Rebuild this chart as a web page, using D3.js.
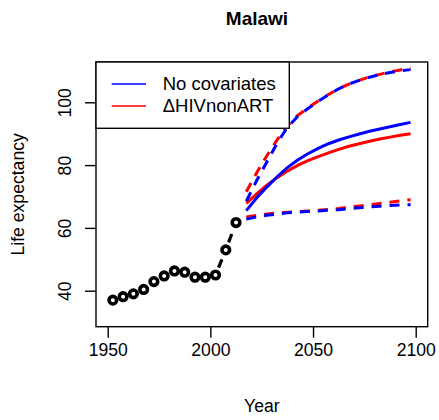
<!DOCTYPE html>
<html><head><meta charset="utf-8">
<script src="https://cdn.jsdelivr.net/npm/d3@7"></script>
<style>body{margin:0;background:#fff}svg{display:block}text{font-family:"Liberation Sans",Arial,sans-serif}</style>
</head><body>
<script>
const histYears=[1952.5,1957.5,1962.5,1967.5,1972.5,1977.5,1982.5,1987.5,1992.5,1997.5,2002.5,2007.5,2012.5];
const histValues=[37.0,38.1,39.0,40.4,42.9,44.7,46.3,45.9,44.3,44.3,45.0,53.0,61.7];
const projYears=[2017.5,2022.5,2027.5,2032.5,2037.5,2042.5,2047.5,2052.5,2057.5,2062.5,2067.5,2072.5,2077.5,2082.5,2087.5,2092.5,2097.5];
const blueMedian=[65.5,69.5,73.0,76.3,79.2,81.6,83.6,85.3,86.8,88.0,89.0,89.9,90.8,91.5,92.2,92.9,93.6];
const blueUpper=[68.5,75.0,81.0,87.0,92.0,95.5,98.0,100.3,102.4,104.3,105.8,107.0,108.0,108.8,109.5,110.0,110.4];
const blueLower=[62.8,63.5,64.0,64.4,64.8,65.0,65.2,65.4,65.6,65.8,66.1,66.4,66.7,66.9,67.1,67.3,67.4];
const redMedian=[67.8,70.8,73.6,76.0,78.1,79.9,81.4,82.7,83.9,85.0,86.0,86.8,87.6,88.3,88.9,89.5,90.0];
const redUpper=[71.5,77.5,83.0,88.0,92.5,95.8,98.2,100.4,102.5,104.3,105.8,107.0,108.1,108.9,109.7,110.3,110.9];
const redLower=[63.5,64.0,64.4,64.8,65.0,65.2,65.4,65.6,65.9,66.2,66.6,67.0,67.4,67.8,68.2,68.6,69.0];
const xTicks=[1950,2000,2050,2100];
const yTicks=[40,60,80,100];
const legendLabels=["No covariates","\u0394HIVnonART"];
const legendColors=["#0000ff","#ff0000"];
const title="Malawi", xLabel="Year", yLabel="Life expectancy";

const W=439,H=420;
const L=96,R=427.7,T=62,B=326.7;
const x=d3.scaleLinear().domain([1944.30,2105.84]).range([L,R]);
const y=d3.scaleLinear().domain([28.54,112.83]).range([B,T]);
const svg=d3.select("body").append("svg").attr("width",W).attr("height",H);
const fs=17.6;

const line=d3.line().x(d=>x(d[0])).y(d=>y(d[1]));
function drawSeries(vals,color,dashed){
  svg.append("path").datum(projYears.map((yr,i)=>[yr,vals[i]]))
    .attr("d",line).attr("fill","none").attr("stroke",color).attr("stroke-width",3)
    .attr("stroke-dasharray",dashed?"10,8":null);
}
drawSeries(redLower,"#ff0000",true);
drawSeries(redUpper,"#ff0000",true);
drawSeries(redMedian,"#ff0000",false);
drawSeries(blueLower,"#0000ff",true);
drawSeries(blueUpper,"#0000ff",true);
drawSeries(blueMedian,"#0000ff",false);

// historical
const hist=histYears.map((yr,i)=>[yr,histValues[i]]);
for(let i=0;i<hist.length-1;i++){
  const x1=x(hist[i][0]),y1=y(hist[i][1]),x2=x(hist[i+1][0]),y2=y(hist[i+1][1]);
  const d=Math.hypot(x2-x1,y2-y1),g=8;
  if(d>2*g){
    const ux=(x2-x1)/d,uy=(y2-y1)/d;
    svg.append("line").attr("x1",x1+ux*g).attr("y1",y1+uy*g).attr("x2",x2-ux*g).attr("y2",y2-uy*g)
      .attr("stroke","#000").attr("stroke-width",3.2).attr("stroke-dasharray","9,7");
  }
}
svg.selectAll("circle.h").data(hist).enter().append("circle")
  .attr("cx",d=>x(d[0])).attr("cy",d=>y(d[1])).attr("r",3.8)
  .attr("fill","#fff").attr("stroke","#000").attr("stroke-width",3.6);

// box
svg.append("rect").attr("x",L).attr("y",T).attr("width",R-L).attr("height",B-T)
  .attr("fill","none").attr("stroke","#000").attr("stroke-width",1.4);

// x axis
const xa=svg.append("g").attr("transform",`translate(0,${B})`)
  .call(d3.axisBottom(x).tickValues(xTicks).tickSize(11).tickPadding(6).tickFormat(d3.format("d")));
xa.select(".domain").remove();
xa.selectAll("line").attr("stroke","#000").attr("stroke-width",1.4);
xa.selectAll("text").attr("font-size",fs).attr("fill","#000").attr("font-family","Liberation Sans, Arial, sans-serif");

// y axis
const ya=svg.append("g").attr("transform",`translate(${L},0)`)
  .call(d3.axisLeft(y).tickValues(yTicks).tickSize(11).tickFormat(d3.format("d")));
ya.select(".domain").remove();
ya.selectAll("line").attr("stroke","#000").attr("stroke-width",1.4);
ya.selectAll("text").attr("font-size",fs).attr("fill","#000").attr("font-family","Liberation Sans, Arial, sans-serif")
  .attr("x",null).attr("dy",null).attr("text-anchor","middle")
  .attr("transform","translate(-25,0) rotate(-90)");

// labels
svg.append("text").attr("x",257).attr("y",25).attr("text-anchor","middle")
  .attr("font-size",19).attr("font-weight","bold").text(title);
svg.append("text").attr("x",(L+R)/2).attr("y",411.7).attr("text-anchor","middle")
  .attr("font-size",fs).text(xLabel);
svg.append("text").attr("transform",`translate(24,${(T+B)/2}) rotate(-90)`).attr("text-anchor","middle")
  .attr("font-size",fs).text(yLabel);

// legend
svg.append("rect").attr("x",L).attr("y",T).attr("width",289.3-L).attr("height",128.3-T)
  .attr("fill","#fff").attr("stroke","#000").attr("stroke-width",1.4);
legendLabels.forEach((lab,i)=>{
  const ly=84+i*22;
  svg.append("line").attr("x1",111.7).attr("x2",146).attr("y1",ly).attr("y2",ly)
    .attr("stroke",legendColors[i]).attr("stroke-width",1.5);
  svg.append("text").attr("x",162.7).attr("y",ly).attr("dy","0.35em").attr("font-size",18.5).text(lab);
});
</script>
</body></html>
